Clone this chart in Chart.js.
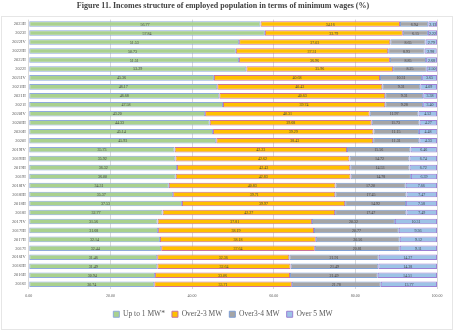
<!DOCTYPE html>
<html>
<head>
<meta charset="utf-8">
<script src="https://cdn.jsdelivr.net/npm/chart.js@4/dist/chart.umd.min.js"></script>
<style>
  body { margin: 0; background: #fff; }
  #wrap { position: relative; width: 454px; height: 330px; }
  #frame { position: absolute; left: 1px; top: 16px; width: 450px; height: 312px; border: 1px solid #e6e6e6; }
</style>
</head>
<body>
<div id="wrap">
  <div id="frame"></div>
  <canvas id="chart1" width="454" height="330"></canvas>
</div>
<script>

// quarters, newest first (top of the chart)
var quarters = [
  "2023II", "2023I",
  "2022IV", "2022III", "2022II", "2022I",
  "2021IV", "2021III", "2021II", "2021I",
  "2020IV", "2020III", "2020II", "2020I",
  "2019IV", "2019III", "2019II", "2019I",
  "2018IV", "2018III", "2018II", "2018I",
  "2017IV", "2017III", "2017II", "2017I",
  "2016IV", "2016III", "2016II", "2016I"
];

var upTo1 = [
  56.77, 57.84,
  51.53, 50.73, 51.51, 53.29,
  45.36, 46.17, 46.68, 47.58,
  43.20, 44.33, 45.14, 45.93,
  35.73, 35.92, 36.32, 36.00,
  34.31, 35.37, 37.53, 32.77,
  31.56, 31.68, 32.14, 32.44,
  31.46, 31.49, 30.94, 30.74
];

var over2to3 = [
  34.16, 33.79,
  37.03, 37.31, 36.96, 35.96,
  40.68, 40.43, 40.63, 39.74,
  40.31, 39.68, 39.29, 38.43,
  42.23, 42.62, 42.43, 42.83,
  40.83, 39.71, 39.97, 42.27,
  37.81, 38.19, 38.18, 37.64,
  32.36, 32.64, 33.06, 33.71
];

var over3to4 = [
  6.94, 6.15,
  8.65, 8.93, 8.85, 8.25,
  10.31, 9.31, 9.31, 9.28,
  11.97, 11.73, 11.15, 11.31,
  15.56, 14.72, 14.53, 14.78,
  17.20, 17.45, 14.92, 17.47,
  20.32, 20.77, 20.56, 20.81,
  21.91, 21.49, 21.49, 21.78
];

var over5 = [
  2.13, 2.22,
  2.79, 2.98, 2.68, 2.50,
  3.65, 4.09, 3.38, 3.40,
  4.52, 4.27, 4.48, 4.33,
  6.46, 6.74, 6.72, 6.39,
  7.66, 7.47, 7.58, 7.49,
  10.31, 9.36, 9.12, 9.11,
  14.27, 14.38, 14.51, 13.77
];

var xTicks = [0, 20, 40, 60, 80, 100];

// writes the value in the middle of every segment
var segmentLabels = {
  id: 'segmentLabels',
  afterDatasetsDraw: function(chart) {
    var ctx = chart.ctx;
    ctx.save();
    ctx.font = '4px "Liberation Serif"';
    ctx.fillStyle = '#404040';
    ctx.textAlign = 'center';
    ctx.textBaseline = 'middle';
    chart.data.datasets.forEach(function(ds, i) {
      var meta = chart.getDatasetMeta(i);
      meta.data.forEach(function(bar, j) {
        var mid = (bar.x + bar.base) / 2;
        ctx.fillText(ds.data[j].toFixed(2), mid, bar.y + 0.5);
      });
    });
    ctx.restore();
  }
};

function makeSet(label, values, fill, edge) {
  return {
    label: label,
    data: values,
    backgroundColor: fill,
    borderColor: edge,
    borderWidth: 1,
    borderSkipped: false,
    barPercentage: 0.62,
    categoryPercentage: 1.0
  };
}

const ctx1 = document.getElementById('chart1').getContext('2d');
const chart1 = new Chart(ctx1, {
  type: 'bar',
  data: {
    labels: quarters,
    datasets: [
      makeSet('Up to 1 MW*', upTo1, '#a9d18e', '#8faadc'),
      makeSet('Over2-3 MW', over2to3, '#ffc000', '#c9739c'),
      makeSet('Over3-4 MW', over3to4, '#a5a5a5', '#7f9fd5'),
      makeSet('Over 5 MW', over5, '#9dc3e6', '#9b7fd4')
    ]
  },
  options: {
    indexAxis: 'y',
    responsive: false,
    animation: false,
    layout: { padding: { left: 9, right: 17, top: 0, bottom: 2 } },
    scales: {
      x: {
        stacked: true,
        min: 0,
        max: 100,
        afterBuildTicks: function(axis) {
          axis.ticks = xTicks.map(function(v) { return { value: v }; });
        },
        ticks: {
          font: { family: 'Liberation Serif', size: 4 },
          color: '#595959',
          padding: 5,
          callback: function(v) { return Number(v).toFixed(2); }
        },
        grid: { color: '#d9d9d9', drawTicks: false },
        border: { display: false }
      },
      y: {
        stacked: true,
        ticks: {
          font: { family: 'Liberation Serif', size: 4.5 },
          color: '#595959',
          padding: 3,
          autoSkip: false
        },
        grid: { display: false, drawTicks: false },
        border: { display: false }
      }
    },
    plugins: {
      title: {
        display: true,
        text: 'Figure 11. Incomes structure of employed population in terms of minimum wages (%)',
        font: { family: 'Liberation Serif', size: 8, weight: 'bold' },
        color: '#404040',
        padding: { top: 1, bottom: 9 }
      },
      legend: {
        position: 'bottom',
        labels: {
          font: { family: 'Liberation Serif', size: 7.5 },
          color: '#595959',
          boxWidth: 6,
          boxHeight: 6,
          padding: 7
        }
      },
      tooltip: { enabled: false }
    }
  },
  plugins: [segmentLabels]
});
</script>
</body>
</html>
